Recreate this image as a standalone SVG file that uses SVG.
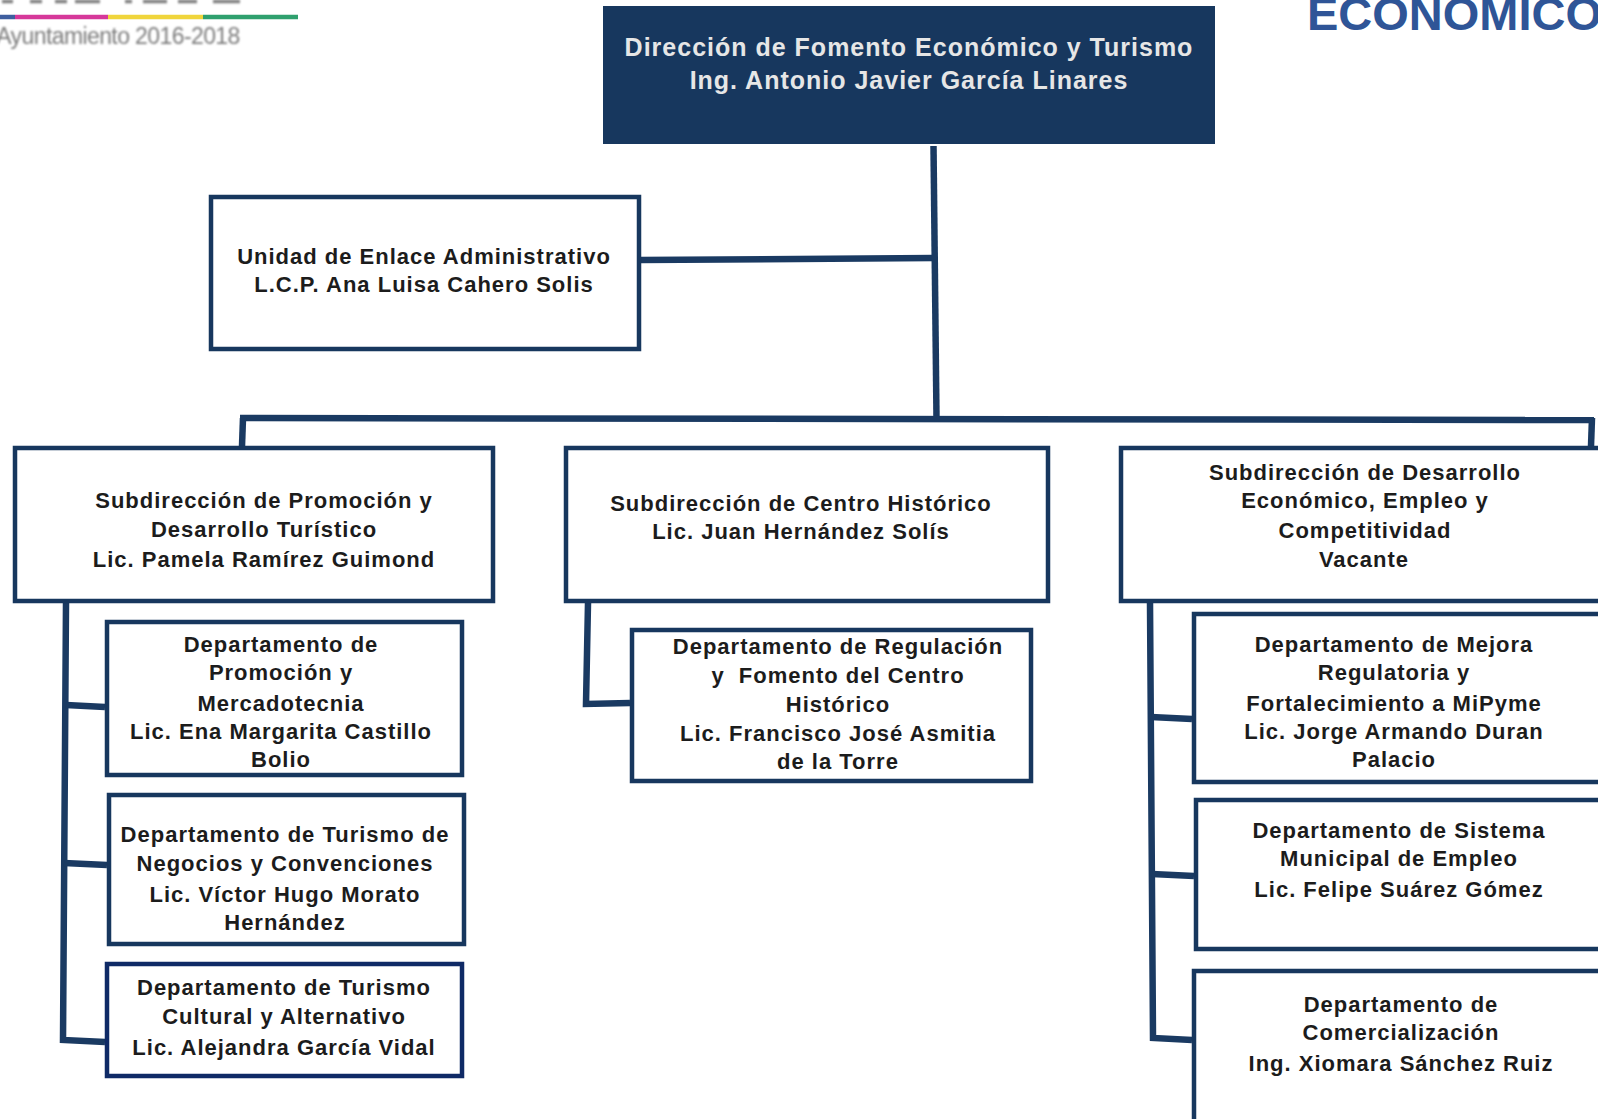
<svg xmlns="http://www.w3.org/2000/svg" width="1598" height="1119" viewBox="0 0 1598 1119">
<style>
text{font-family:"Liberation Sans",Arial,sans-serif;font-weight:700;text-anchor:middle;white-space:pre}
.t{font-size:22px;fill:#1c1c1c;letter-spacing:1px}
.h{font-size:25px;fill:#e6e6e6;letter-spacing:1px}
.b{fill:#fff;stroke:#17375e;stroke-width:4.5}
.c{fill:none;stroke:#1a3a62;stroke-width:6.5}
</style>
<defs><filter id="soft" filterUnits="userSpaceOnUse" x="-10" y="-10" width="340" height="80"><feGaussianBlur stdDeviation="0.8"/></filter></defs>
<rect width="1598" height="1119" fill="#fff"/>
<g id="logo">
<path d="M2 1.5H13M30 1.5H42M55 1.5H67M75 1.5H100M125 1.5H132M143 1.5H167M178 1.5H197M213 1.5H240" stroke="#808080" stroke-width="3.5" filter="url(#soft)"/>
<path d="M0 17H15" stroke="#3f5f9f" stroke-width="4.5"/>
<path d="M15 17H108" stroke="#d6389a" stroke-width="4.5"/>
<path d="M108 17H203" stroke="#f0d53c" stroke-width="4.5"/>
<path d="M203 17H298" stroke="#2fa06e" stroke-width="4.5"/>
<text x="118" y="44" filter="url(#soft)" style="font-weight:400;font-size:23px;fill:#7c7c7c;letter-spacing:-.6px">Ayuntamiento 2016-2018</text>
</g>
<text id="title" x="1307" y="30" style="text-anchor:start;font-size:47px;fill:#2f5597">ECONOMICO</text>
<g id="connectors">
<path class="c" d="M933.5 146L936.5 418"/>
<path class="c" d="M640 260L934 258"/>
<path class="c" d="M240 418L1594 420"/>
<path class="c" d="M243 418L242 446"/>
<path class="c" d="M1592 418L1591 446"/>
<path class="c" d="M66 603L63 1040L105 1042"/>
<path class="c" d="M66 705L105 707"/>
<path class="c" d="M64 863L107 865"/>
<path class="c" d="M588 603L586 704L630 703"/>
<path class="c" d="M1150 603L1153 1038L1192 1040"/>
<path class="c" d="M1151 717L1192 719"/>
<path class="c" d="M1152 874L1194 876"/>
</g>
<g id="n-direccion">
<rect x="603" y="6" width="612" height="138" fill="#17375e"/>
<text class="h" x="909" y="56">Dirección de Fomento Económico y Turismo</text>
<text class="h" x="909" y="89">Ing. Antonio Javier García Linares</text>
</g>
<g id="n-unidad">
<rect class="b" x="211" y="197" width="428" height="152"/>
<text class="t" x="424" y="264">Unidad de Enlace Administrativo</text>
<text class="t" x="424" y="292">L.C.P. Ana Luisa Cahero Solis</text>
</g>
<g id="n-sub-promocion">
<rect class="b" x="15" y="448" width="478" height="153"/>
<text class="t" x="264" y="508">Subdirección de Promoción y</text>
<text class="t" x="264" y="537">Desarrollo Turístico</text>
<text class="t" x="264" y="567">Lic. Pamela Ramírez Guimond</text>
</g>
<g id="n-sub-centro">
<rect class="b" x="566" y="448" width="482" height="153"/>
<text class="t" x="801" y="511">Subdirección de Centro Histórico</text>
<text class="t" x="801" y="539">Lic. Juan Hernández Solís</text>
</g>
<g id="n-sub-desarrollo">
<rect class="b" x="1121" y="448" width="490" height="153"/>
<text class="t" x="1365" y="480">Subdirección de Desarrollo</text>
<text class="t" x="1365" y="508">Económico, Empleo y</text>
<text class="t" x="1365" y="538">Competitividad</text>
<text class="t" x="1364" y="567">Vacante</text>
</g>
<g id="n-dep-promocion">
<rect class="b" x="107" y="622" width="355" height="153"/>
<text class="t" x="281" y="652">Departamento de</text>
<text class="t" x="281" y="680">Promoción y</text>
<text class="t" x="281" y="711">Mercadotecnia</text>
<text class="t" x="281" y="739">Lic. Ena Margarita Castillo</text>
<text class="t" x="281" y="767">Bolio</text>
</g>
<g id="n-dep-negocios">
<rect class="b" x="109" y="795" width="355" height="149"/>
<text class="t" x="285" y="842">Departamento de Turismo de</text>
<text class="t" x="285" y="871">Negocios y Convenciones</text>
<text class="t" x="285" y="902">Lic. Víctor Hugo Morato</text>
<text class="t" x="285" y="930">Hernández</text>
</g>
<g id="n-dep-cultural">
<rect class="b" x="107" y="964" width="355" height="112" style="stroke:#0f2a66"/>
<text class="t" x="284" y="995">Departamento de Turismo</text>
<text class="t" x="284" y="1024">Cultural y Alternativo</text>
<text class="t" x="284" y="1055">Lic. Alejandra García Vidal</text>
</g>
<g id="n-dep-regulacion">
<rect class="b" x="632" y="630" width="399" height="151"/>
<text class="t" x="838" y="654">Departamento de Regulación</text>
<text class="t" x="838" y="683">y  Fomento del Centro</text>
<text class="t" x="838" y="712">Histórico</text>
<text class="t" x="838" y="741">Lic. Francisco José Asmitia</text>
<text class="t" x="838" y="769">de la Torre</text>
</g>
<g id="n-dep-mejora">
<rect class="b" x="1194" y="614" width="420" height="168"/>
<text class="t" x="1394" y="652">Departamento de Mejora</text>
<text class="t" x="1394" y="680">Regulatoria y</text>
<text class="t" x="1394" y="711">Fortalecimiento a MiPyme</text>
<text class="t" x="1394" y="739">Lic. Jorge Armando Duran</text>
<text class="t" x="1394" y="767">Palacio</text>
</g>
<g id="n-dep-sistema">
<rect class="b" x="1196" y="800" width="420" height="149"/>
<text class="t" x="1399" y="838">Departamento de Sistema</text>
<text class="t" x="1399" y="866">Municipal de Empleo</text>
<text class="t" x="1399" y="897">Lic. Felipe Suárez Gómez</text>
</g>
<g id="n-dep-comercializacion">
<rect class="b" x="1194" y="971" width="420" height="170"/>
<text class="t" x="1401" y="1012">Departamento de</text>
<text class="t" x="1401" y="1040">Comercialización</text>
<text class="t" x="1401" y="1071">Ing. Xiomara Sánchez Ruiz</text>
</g>
</svg>
